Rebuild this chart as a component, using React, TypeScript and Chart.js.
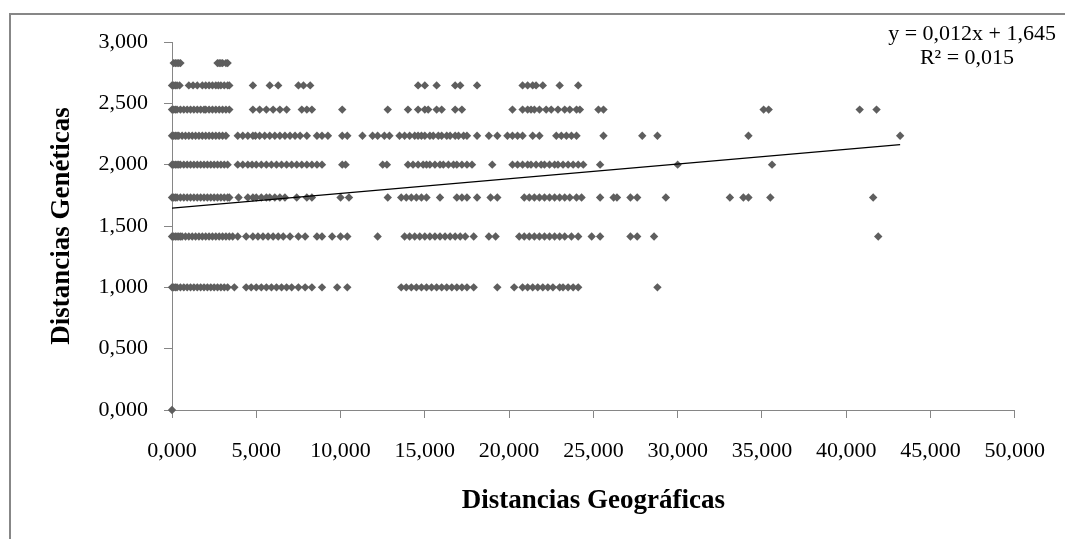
import React, { useEffect, useRef } from "react";
import { Chart, registerables } from "chart.js";

Chart.register(...registerables);

// Genetic distance levels (y) and the geographic distances (x) observed at each level
const geneticLevels = [2.828, 2.646, 2.449, 2.236, 2.0, 1.732, 1.414, 1.0, 0.0];

const geo2828 = [0.1, 0.2, 0.3, 0.4, 0.5, 2.7, 2.8, 2.9, 3.0, 3.2, 3.3];
const geo2646 = [0.0, 0.1, 0.2, 0.3, 0.45, 1.0, 1.25, 1.5, 1.8, 2.0, 2.2, 2.4, 2.6, 2.75, 2.9, 3.1, 3.3, 3.4, 4.8, 5.8, 6.3, 7.5, 7.8, 8.2, 14.6, 15.0, 15.7, 16.8, 17.1, 18.1, 20.8, 21.1, 21.4, 21.6, 22.0, 23.0, 24.1];
const geo2449 = [0.0, 0.1, 0.2, 0.3, 0.5, 0.7, 0.9, 1.1, 1.3, 1.5, 1.7, 1.9, 2.0, 2.2, 2.4, 2.6, 2.8, 3.0, 3.2, 3.4, 4.8, 5.2, 5.6, 6.0, 6.4, 6.8, 7.7, 8.0, 8.3, 10.1, 12.8, 14.0, 14.6, 15.0, 15.2, 15.7, 16.0, 16.8, 17.2, 20.2, 20.8, 21.1, 21.3, 21.5, 21.8, 22.2, 22.5, 22.9, 23.3, 23.6, 24.0, 24.2, 25.3, 25.6, 35.1, 35.4, 40.8, 41.8];
const geo2236 = [0.0, 0.1, 0.2, 0.3, 0.4, 0.6, 0.8, 1.0, 1.2, 1.4, 1.6, 1.8, 2.0, 2.2, 2.4, 2.6, 2.8, 3.0, 3.2, 3.9, 4.2, 4.5, 4.8, 4.95, 5.2, 5.5, 5.8, 6.1, 6.4, 6.7, 7.0, 7.3, 7.6, 8.0, 8.6, 8.9, 9.25, 10.1, 10.4, 11.3, 11.9, 12.2, 12.6, 12.9, 13.5, 13.8, 14.1, 14.4, 14.6, 14.8, 15.0, 15.3, 15.5, 15.8, 16.0, 16.3, 16.5, 16.8, 17.0, 17.3, 17.5, 18.1, 18.8, 19.3, 19.9, 20.2, 20.5, 20.8, 21.4, 21.8, 22.8, 23.1, 23.4, 23.7, 24.0, 25.6, 27.9, 28.8, 34.2, 43.2];
const geo2000 = [0.0, 0.1, 0.2, 0.3, 0.4, 0.5, 0.7, 0.9, 1.1, 1.3, 1.5, 1.7, 1.9, 2.1, 2.3, 2.5, 2.7, 2.9, 3.1, 3.3, 3.9, 4.2, 4.5, 4.75, 5.0, 5.3, 5.6, 5.9, 6.2, 6.5, 6.8, 7.1, 7.4, 7.7, 8.0, 8.3, 8.6, 8.9, 10.1, 10.3, 12.5, 12.75, 14.0, 14.3, 14.6, 14.9, 15.1, 15.3, 15.6, 15.9, 16.1, 16.4, 16.7, 16.9, 17.2, 17.5, 17.8, 19.0, 20.2, 20.5, 20.8, 21.1, 21.3, 21.6, 21.9, 22.1, 22.4, 22.7, 22.9, 23.2, 23.5, 23.8, 24.1, 24.4, 25.4, 30.0, 35.6];
const geo1732 = [0.0, 0.1, 0.2, 0.3, 0.5, 0.7, 0.9, 1.1, 1.3, 1.5, 1.7, 1.9, 2.1, 2.3, 2.5, 2.7, 2.9, 3.1, 3.3, 3.4, 3.95, 4.5, 4.8, 5.0, 5.3, 5.6, 5.8, 6.1, 6.4, 6.7, 7.4, 8.0, 8.3, 10.0, 10.5, 12.8, 13.6, 13.9, 14.2, 14.5, 14.8, 15.1, 15.9, 16.9, 17.2, 17.5, 18.1, 18.9, 19.3, 20.9, 21.2, 21.5, 21.8, 22.1, 22.4, 22.7, 23.0, 23.3, 23.6, 24.0, 24.3, 25.4, 26.2, 26.4, 27.2, 27.6, 29.3, 33.1, 33.9, 34.2, 35.5, 41.6];
const geo1414 = [0.0, 0.1, 0.2, 0.3, 0.4, 0.5, 0.6, 0.8, 1.0, 1.2, 1.4, 1.6, 1.8, 2.0, 2.2, 2.4, 2.6, 2.8, 3.0, 3.2, 3.4, 3.6, 3.9, 4.4, 4.8, 5.1, 5.4, 5.7, 6.0, 6.3, 6.6, 7.0, 7.5, 7.9, 8.6, 8.9, 9.5, 10.0, 10.4, 12.2, 13.8, 14.1, 14.4, 14.7, 15.0, 15.3, 15.6, 15.9, 16.2, 16.5, 16.8, 17.1, 17.4, 17.9, 18.8, 19.2, 20.6, 20.9, 21.2, 21.5, 21.8, 22.1, 22.4, 22.7, 23.0, 23.3, 23.7, 24.1, 24.9, 25.4, 27.2, 27.6, 28.6, 41.9];
const geo1000 = [0.0, 0.1, 0.2, 0.3, 0.5, 0.7, 0.9, 1.1, 1.3, 1.5, 1.7, 1.9, 2.1, 2.3, 2.5, 2.7, 2.9, 3.1, 3.3, 3.7, 4.4, 4.7, 5.0, 5.3, 5.6, 5.9, 6.2, 6.5, 6.8, 7.1, 7.5, 7.9, 8.3, 8.9, 9.8, 10.4, 13.6, 13.9, 14.2, 14.5, 14.8, 15.1, 15.4, 15.7, 16.0, 16.3, 16.6, 16.9, 17.2, 17.5, 17.9, 19.3, 20.3, 20.8, 21.1, 21.4, 21.7, 22.0, 22.3, 22.6, 23.0, 23.2, 23.5, 23.8, 24.1, 28.8];
const geo0 = [0.0];

const geoByLevel = [geo2828, geo2646, geo2449, geo2236, geo2000, geo1732, geo1414, geo1000, geo0];

// Linear trend line (as reported on the chart)
const trendSlope = 0.012;
const trendIntercept = 1.645;
const equationText = "y = 0,012x + 1,645";
const r2Text = "R² = 0,015";

const xAxisTitle = "Distancias Geográficas";
const yAxisTitle = "Distancias Genéticas";

const fmt = (v: number) => Number(v).toFixed(3).replace(".", ",");

export default function App() {
  const ref = useRef<HTMLCanvasElement | null>(null);

  useEffect(() => {
    if (!ref.current) return;
    const points = geneticLevels.flatMap((y, i) => geoByLevel[i].map((x) => ({ x, y })));
    const maxX = Math.max(...points.map((p) => p.x));
    const minX = Math.min(...points.map((p) => p.x));
    const trend = [
      { x: minX, y: trendSlope * minX + trendIntercept },
      { x: maxX, y: trendSlope * maxX + trendIntercept },
    ];

    const serif = '"Liberation Serif", "Times New Roman", serif';

    const framePlugin = {
      id: "frame",
      beforeDraw(chart: any) {
        const ctx = chart.ctx;
        ctx.save();
        ctx.fillStyle = "#ffffff";
        ctx.fillRect(0, 0, chart.width, chart.height);
        ctx.strokeStyle = "#878787";
        ctx.lineWidth = 2;
        ctx.strokeRect(10, 14, 1200, 700);
        ctx.restore();
      },
      afterDraw(chart: any) {
        const ctx = chart.ctx;
        ctx.save();
        ctx.fillStyle = "#000";
        ctx.font = `22px ${serif}`;
        ctx.textBaseline = "middle";
        ctx.textAlign = "right";
        ctx.fillText(equationText, 1056, 34);
        ctx.textAlign = "center";
        ctx.fillText(r2Text, 967, 58);
        ctx.restore();
      },
    };

    const chart = new Chart(ref.current, {
      type: "scatter",
      data: {
        datasets: [
          {
            type: "line",
            data: trend,
            borderColor: "#000000",
            borderWidth: 1.3,
            pointRadius: 0,
            showLine: true,
            fill: false,
            order: 0,
          } as any,
          {
            data: points,
            pointStyle: "rectRot",
            pointRadius: 4.2,
            pointBackgroundColor: "#5e5e5e",
            pointBorderWidth: 0,
            backgroundColor: "#5e5e5e",
            borderColor: "#5e5e5e",
            clip: false,
            order: 1,
          } as any,
        ],
      },
      options: {
        animation: false,
        responsive: false,
        devicePixelRatio: 1,
        layout: { padding: { top: 42, right: 50, left: 0, bottom: 0 } },
        plugins: { legend: { display: false }, tooltip: { enabled: false } },
        scales: {
          x: {
            type: "linear",
            min: 0,
            max: 50,
            ticks: {
              stepSize: 5,
              callback: (v: any) => fmt(v),
              font: { family: serif, size: 22 },
              color: "#000",
              padding: 20,
              maxRotation: 0,
              autoSkip: false,
            },
            grid: { drawOnChartArea: false, drawTicks: true, tickLength: 8, color: "#868686" },
            border: { color: "#868686", width: 1 },
            title: {
              display: true,
              text: xAxisTitle,
              font: { family: serif, size: 27, weight: "bold" },
              color: "#000",
              padding: { top: 0, bottom: 22 },
            },
            afterFit: (s: any) => {
              s.height = 129;
            },
          },
          y: {
            type: "linear",
            min: 0,
            max: 3,
            ticks: {
              stepSize: 0.5,
              callback: (v: any) => fmt(v),
              font: { family: serif, size: 22 },
              color: "#000",
              padding: 16,
            },
            grid: { drawOnChartArea: false, drawTicks: true, tickLength: 8, color: "#868686" },
            border: { color: "#868686", width: 1 },
            title: {
              display: true,
              text: yAxisTitle,
              font: { family: serif, size: 27, weight: "bold" },
              color: "#000",
              padding: { top: 46, bottom: 0 },
            },
            afterFit: (s: any) => {
              s.width = 172;
            },
          },
        },
      } as any,
      plugins: [framePlugin],
    });
    return () => chart.destroy();
  }, []);

  return (
    <div style={{ position: "fixed", left: 0, top: 0, width: 1065, height: 539, overflow: "hidden", background: "#fff" }}>
      <canvas ref={ref} width={1065} height={539} style={{ width: 1065, height: 539, display: "block" }} />
    </div>
  );
}
